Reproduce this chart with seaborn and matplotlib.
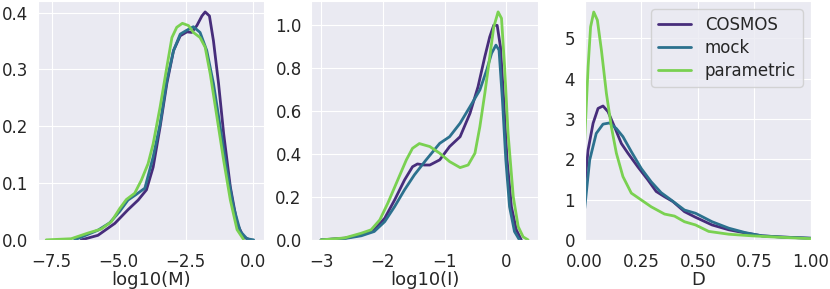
import matplotlib
matplotlib.use("Agg")
import matplotlib.pyplot as plt
import seaborn as sns

# colours of the three samples
colors = ["#472d7b", "#2c718e", "#7ad151"]
labels = ["COSMOS", "mock", "parametric"]

# ---- panel 1: log10(M) densities
m_cosmos_x = [-6.39, -5.77, -5.14, -4.65, -4.27, -3.96, -3.71, -3.45, -3.20, -2.95, -2.70, -2.45, -2.27,
              -2.08, -1.89, -1.77, -1.61, -1.46, -1.27, -1.08, -0.83, -0.58, -0.34, -0.09]
m_cosmos_y = [0.0, 0.008, 0.029, 0.053, 0.070, 0.088, 0.128, 0.199, 0.275, 0.333, 0.359, 0.366, 0.365,
              0.377, 0.394, 0.401, 0.394, 0.350, 0.275, 0.187, 0.093, 0.029, 0.005, 0.0]
m_mock_x = [-6.64, -5.77, -5.33, -4.96, -4.65, -4.34, -4.02, -3.71, -3.45, -3.20, -2.95, -2.70, -2.45,
            -2.21, -1.96, -1.71, -1.46, -1.21, -0.96, -0.71, -0.46, -0.21, 0.04]
m_mock_y = [0.0, 0.017, 0.030, 0.050, 0.070, 0.080, 0.091, 0.146, 0.204, 0.280, 0.333, 0.362, 0.369,
            0.375, 0.365, 0.333, 0.275, 0.199, 0.123, 0.058, 0.015, 0.002, 0.0]
m_param_x = [-7.70, -6.77, -6.14, -5.65, -5.27, -4.96, -4.71, -4.40, -4.15, -3.90, -3.71, -3.45, -3.20,
             -3.01, -2.83, -2.62, -2.39, -2.21, -1.96, -1.77, -1.58, -1.33, -1.08, -0.83, -0.58, -0.34]
m_param_y = [0.0, 0.002, 0.012, 0.019, 0.032, 0.055, 0.071, 0.082, 0.105, 0.134, 0.169, 0.234, 0.304,
             0.356, 0.374, 0.381, 0.377, 0.365, 0.356, 0.339, 0.292, 0.216, 0.140, 0.070, 0.018, 0.001]

# ---- panel 2: log10(I)
i_cosmos_x = [-3.0, -2.62, -2.35, -2.14, -1.97, -1.81, -1.65, -1.52, -1.44, -1.33, -1.24, -1.08, -0.92,
              -0.75, -0.59, -0.46, -0.35, -0.27, -0.205, -0.15, -0.097, -0.044, 0.01, 0.08, 0.16, 0.24]
i_cosmos_y = [0.0, 0.008, 0.023, 0.047, 0.101, 0.186, 0.279, 0.341, 0.354, 0.349, 0.349, 0.373, 0.435,
              0.481, 0.590, 0.714, 0.854, 0.947, 1.001, 1.0, 0.900, 0.652, 0.373, 0.155, 0.047, 0.0]
i_mock_x = [-3.0, -2.62, -2.35, -2.14, -1.97, -1.81, -1.65, -1.49, -1.30, -1.08, -0.92, -0.75, -0.59,
            -0.43, -0.32, -0.24, -0.17, -0.12, -0.065, -0.01, 0.05, 0.13, 0.21]
i_mock_y = [0.0, 0.006, 0.019, 0.039, 0.085, 0.155, 0.233, 0.303, 0.373, 0.450, 0.481, 0.544, 0.621,
            0.699, 0.792, 0.870, 0.908, 0.885, 0.652, 0.373, 0.155, 0.039, 0.0]
i_param_x = [-3.0, -2.62, -2.35, -2.19, -2.05, -1.92, -1.76, -1.62, -1.52, -1.41, -1.24, -1.08, -0.92,
             -0.75, -0.62, -0.51, -0.43, -0.35, -0.27, -0.205, -0.135, -0.08, -0.03, 0.026, 0.11, 0.19,
             0.27, 0.35]
i_param_y = [0.0, 0.009, 0.031, 0.047, 0.093, 0.171, 0.279, 0.373, 0.427, 0.449, 0.435, 0.404, 0.365,
             0.337, 0.349, 0.404, 0.528, 0.683, 0.854, 0.993, 1.063, 1.033, 0.807, 0.497, 0.202, 0.062,
             0.014, 0.0]

# ---- panel 3: D
d_cosmos_x = [0.0, 0.015, 0.037, 0.059, 0.081, 0.103, 0.132, 0.162, 0.191, 0.235, 0.279, 0.316, 0.353,
              0.390, 0.441, 0.490, 0.563, 0.637, 0.710, 0.784, 0.872, 1.0]
d_cosmos_y = [1.32, 2.23, 2.89, 3.26, 3.32, 3.18, 2.80, 2.39, 2.15, 1.81, 1.49, 1.20, 1.07,
              0.95, 0.70, 0.56, 0.37, 0.25, 0.17, 0.10, 0.07, 0.04]
d_mock_x = [0.0, 0.022, 0.051, 0.081, 0.110, 0.140, 0.169, 0.206, 0.250, 0.294, 0.338, 0.382, 0.441,
            0.490, 0.563, 0.637, 0.710, 0.784, 0.872, 1.0]
d_mock_y = [0.78, 1.98, 2.64, 2.87, 2.90, 2.76, 2.56, 2.19, 1.77, 1.44, 1.17, 0.99, 0.74,
            0.66, 0.45, 0.29, 0.18, 0.10, 0.07, 0.04]
d_param_x = [0.0, 0.015, 0.026, 0.040, 0.056, 0.074, 0.096, 0.118, 0.140, 0.169, 0.206, 0.250, 0.294,
             0.353, 0.397, 0.441, 0.490, 0.548, 0.637, 0.740, 0.843, 1.0]
d_param_y = [2.48, 4.29, 5.28, 5.65, 5.45, 4.70, 3.63, 2.80, 2.15, 1.57, 1.16, 0.99, 0.82,
             0.64, 0.59, 0.45, 0.37, 0.21, 0.14, 0.10, 0.07, 0.03]

sns.set_style("darkgrid")
plt.rcParams["font.size"] = 12

fig, axes = plt.subplots(1, 3, figsize=(8.3, 2.89), dpi=100)
plt.subplots_adjust(left=0.046, right=0.977, bottom=0.17, top=0.996, wspace=0.208)

panels = [
    ([m_cosmos_x, m_mock_x, m_param_x], [m_cosmos_y, m_mock_y, m_param_y], "log10(M)", (-8.0, 0.44), (0, 0.42)),
    ([i_cosmos_x, i_mock_x, i_param_x], [i_cosmos_y, i_mock_y, i_param_y], "log10(I)", (-3.156, 0.505), (0, 1.113)),
    ([d_cosmos_x, d_mock_x, d_param_x], [d_cosmos_y, d_mock_y, d_param_y], "D", (0, 1), (0, 5.92)),
]

for k, (ax, (xs, ys, xlabel, xlim, ylim)) in enumerate(zip(axes, panels)):
    for i in range(3):
        sns.lineplot(x=xs[i], y=ys[i], ax=ax, color=colors[i], linewidth=2,
                     label=labels[i] if k == 2 else None, sort=False)
    ax.set_xlim(*xlim)
    ax.set_ylim(*ylim)
    ax.set_xlabel(xlabel, fontsize=13, labelpad=0)
    ax.set_ylabel("")
    ax.tick_params(axis="x", labelsize=12, pad=6)
    ax.tick_params(axis="y", labelsize=12, pad=3.5)

axes[0].set_yticks([0.0, 0.1, 0.2, 0.3, 0.4])
axes[1].set_yticks([0.0, 0.2, 0.4, 0.6, 0.8, 1.0])
axes[2].set_yticks([0, 1, 2, 3, 4, 5])
axes[2].legend(loc="upper right", fontsize=12, labelspacing=0.3)

plt.savefig("out.png", dpi=100)
